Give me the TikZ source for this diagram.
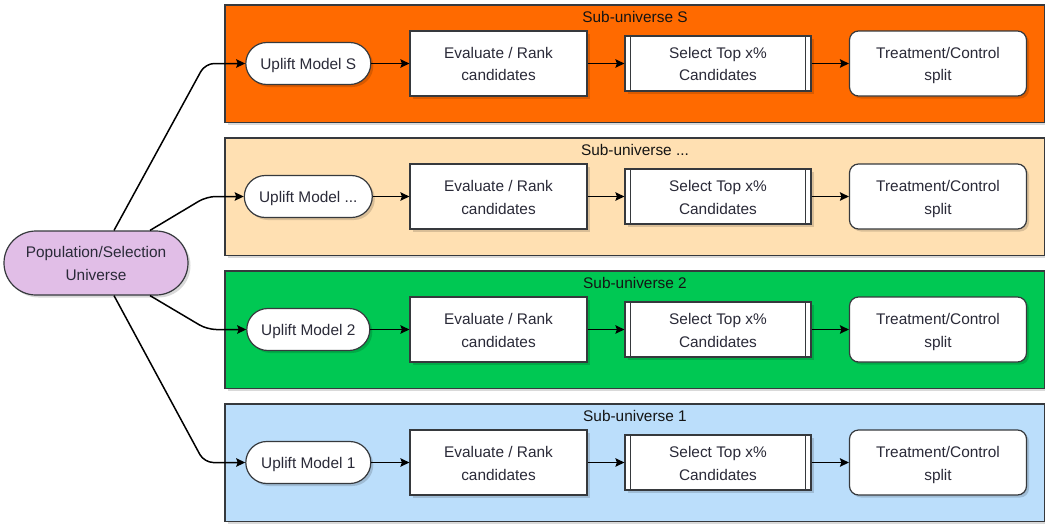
\documentclass[tikz,border=0pt]{standalone}
\usepackage{fontspec}
\setmainfont{Liberation Sans}
\usetikzlibrary{shapes.misc,arrows.meta,calc,shadows}
\definecolor{bordc}{HTML}{36393D}
\definecolor{txtc}{HTML}{2A2A38}
\definecolor{labc}{HTML}{141414}
\definecolor{cS}{HTML}{FF6A00}
\definecolor{cD}{HTML}{FFE0B2}
\definecolor{cB}{HTML}{00C853}
\definecolor{cA}{HTML}{BBDEFB}
\definecolor{cP}{HTML}{E1BEE7}
\newcommand{\topfix}{\vrule width 0pt height 19.1pt\relax}
\begin{document}
\begin{tikzpicture}[x=1pt,y=-1pt,
  every node/.style={font=\fontsize{15.4}{22.7}\selectfont, text=txtc, inner sep=0pt, align=center},
  lab/.style={text=labc},
  shad/.style={drop shadow={shadow xshift=2.5pt,shadow yshift=-2.5pt,opacity=0.15,fill=black}},
  container/.style={rectangle, draw=bordc, line width=1.1pt, shad},
  pill/.style={rounded rectangle, draw=bordc, fill=white, line width=1.2pt, minimum height=42pt, shad},
  evalbox/.style={rectangle, draw=bordc, fill=white, line width=1.2pt, minimum width=177pt, minimum height=65pt, shad},
  selbox/.style={rectangle, draw=bordc, fill=white, line width=1.2pt, minimum width=186pt, minimum height=55pt, shad},
  treatbox/.style={rectangle, rounded corners=9pt, draw=bordc, fill=white, line width=1.2pt, minimum width=177pt, minimum height=65pt, shad},
  popbox/.style={rounded rectangle, draw=bordc, fill=cP, line width=1.2pt, minimum width=184pt, minimum height=64pt, shad},
  conn/.style={draw=black, line width=1.5pt, -{Stealth[length=9pt,width=8.5pt,inset=1.5pt]}},
  link/.style={draw=black, line width=1.5pt, rounded corners=9pt, -{Stealth[length=9pt,width=8.5pt,inset=1.5pt]}},
  inner/.style={draw=bordc, line width=1.2pt},
]
\useasboundingbox (0,0) rectangle (1045,523);

% containers
\path[container, fill=cS] (225,5) rectangle (1044.5,122.5);
\node[lab] (tS) at (635,17.7) {\strut Sub-universe S};
\path[container, fill=cD] (225,138) rectangle (1044.5,255.5);
\node[lab] (tD) at (635,150.7) {\strut Sub-universe ...};
\path[container, fill=cB] (225,271) rectangle (1044.5,388.5);
\node[lab] (tB) at (635,283.7) {\strut Sub-universe 2};
\path[container, fill=cA] (225,404) rectangle (1044.5,521.5);
\node[lab] (tA) at (635,416.7) {\strut Sub-universe 1};

% population
\node[popbox] (pop) at (96,263) {\topfix Population/Selection\\Universe\strut};

% pills
\node[pill, minimum width=125pt] (uS) at (308.3,63.5) {\topfix Uplift Model S\strut};
\node[pill, minimum width=128pt] (uD) at (308.3,196.5) {\topfix Uplift Model ...\strut};
\node[pill, minimum width=123pt] (uB) at (308.3,329.5) {\topfix Uplift Model 2\strut};
\node[pill, minimum width=125pt] (uA) at (308.3,462.5) {\topfix Uplift Model 1\strut};

% rows
\foreach \n/\yc in {S/63.5, D/196.5, B/329.5, A/462.5}{
  \node[evalbox] (e\n) at (498.5,\yc) {\topfix Evaluate / Rank\\candidates\strut};
  \node[selbox] (s\n) at (718,\yc) {\topfix Select Top x\%\\Candidates\strut};
  \draw[inner] ([xshift=6pt]s\n.north west) -- ([xshift=6pt]s\n.south west);
  \draw[inner] ([xshift=-6pt]s\n.north east) -- ([xshift=-6pt]s\n.south east);
  \node[treatbox] (r\n) at (938,\yc) {\topfix Treatment/Control\\split\strut};
  \draw[conn] (u\n.east) -- (e\n.west);
  \draw[conn] (e\n.east) -- (s\n.west);
  \draw[conn] (s\n.east) -- (r\n.west);
}

% links from population
\draw[link] ($(pop.north)+(18,0)$) -- ([xshift=-40pt]uS.west) -- (uS.west);
\draw[link] ($(pop.north)+(54,0)$) -- ([xshift=-37pt]uD.west) -- (uD.west);
\draw[link] ($(pop.south)+(54,0)$) -- ([xshift=-39pt]uB.west) -- (uB.west);
\draw[link] ($(pop.south)+(18,0)$) -- ([xshift=-41pt]uA.west) -- (uA.west);
\end{tikzpicture}
\end{document}
